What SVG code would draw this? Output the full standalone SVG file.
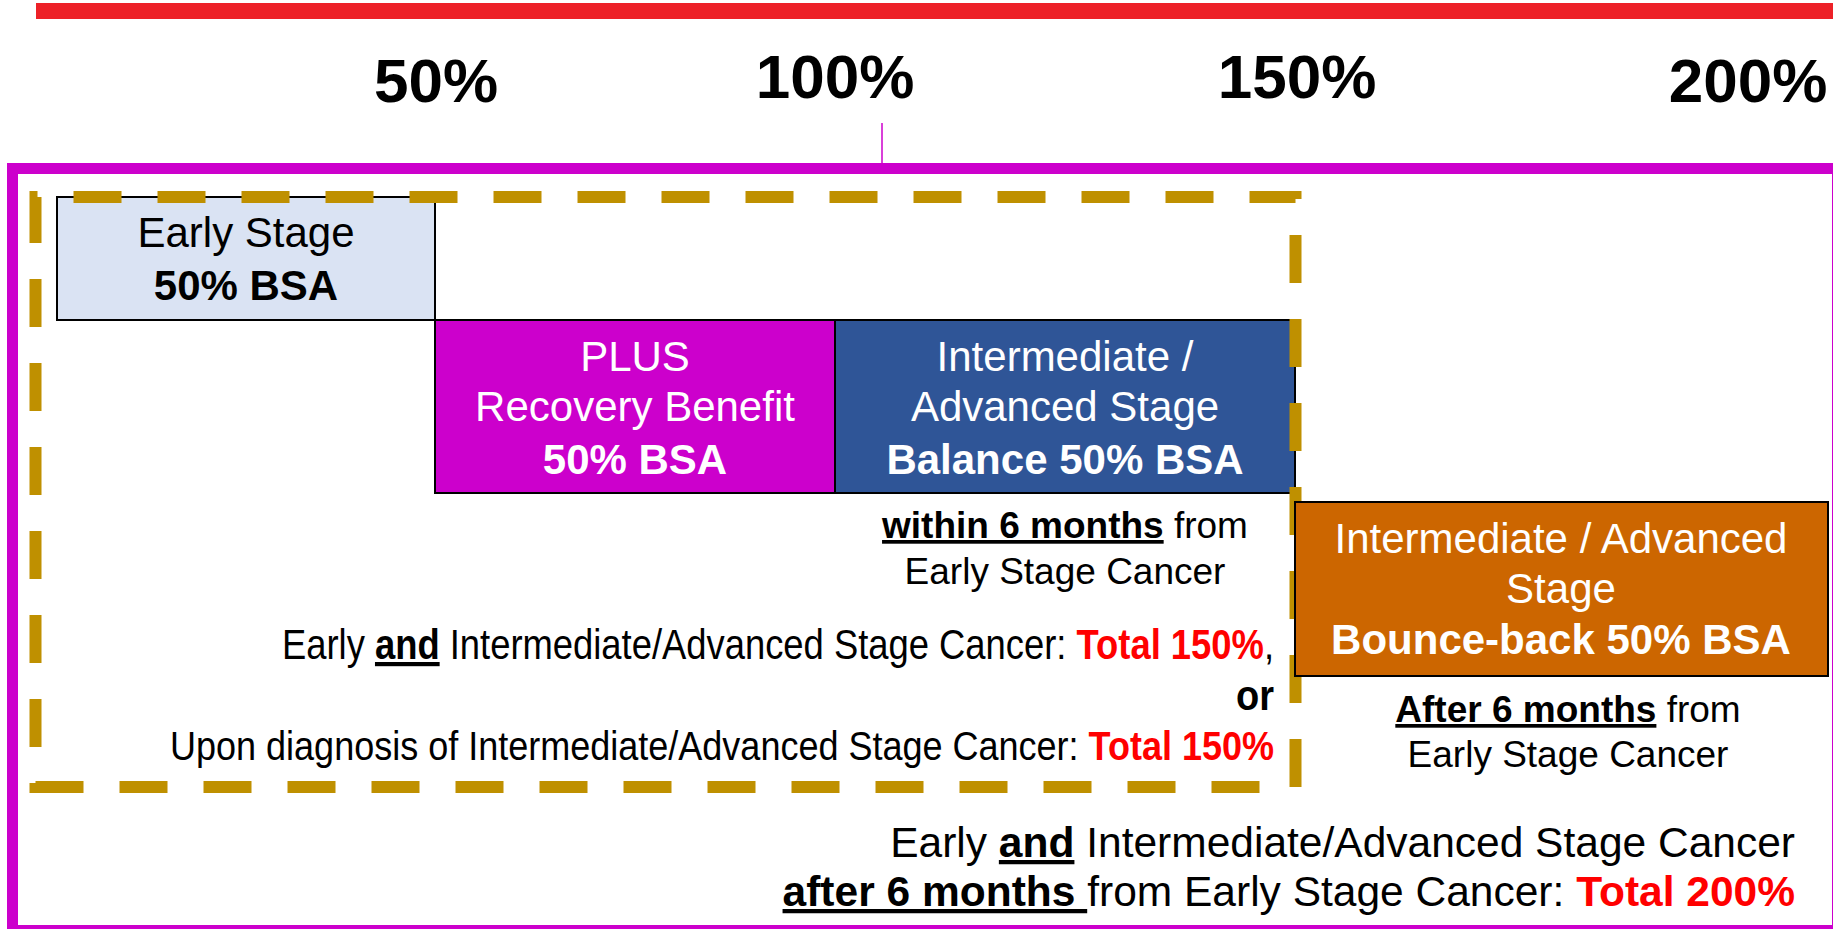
<svg xmlns="http://www.w3.org/2000/svg" width="1833" height="929" viewBox="0 0 1833 929">
<style>
text{font-family:"Liberation Sans",Arial,sans-serif;}
.pct{font-size:62px;font-weight:bold;text-anchor:middle;fill:#000;}
.box{stroke:#000;stroke-width:2;}
.w{fill:#fff;font-size:42px;text-anchor:middle;}
.k{fill:#000;}
.b{font-weight:bold;}
.u{text-decoration:underline;}
.red{fill:#FF0000;font-weight:bold;}
</style>
<rect x="0" y="0" width="1833" height="929" fill="#fff"/>
<rect x="36" y="3" width="1797" height="16" fill="#ED2128"/>
<g id="scale">
<text class="pct" x="436" y="102">50%</text>
<text class="pct" x="835" y="98">100%</text>
<text class="pct" x="1297" y="98">150%</text>
<text class="pct" x="1748" y="102">200%</text>
</g>
<line x1="882" y1="123" x2="882" y2="170" stroke="#CC00CC" stroke-width="1.5"/>
<rect id="frame" x="12.5" y="168.5" width="1825" height="762" fill="none" stroke="#CC00CC" stroke-width="11"/>
<g id="early">
<rect class="box" x="57" y="197" width="378" height="123" fill="#DAE3F3"/>
<text class="k" x="246" y="247" font-size="42" text-anchor="middle">Early Stage</text>
<text class="k b" x="246" y="300" font-size="42" text-anchor="middle">50% BSA</text>
</g>
<g id="plus">
<rect class="box" x="435" y="320" width="400" height="173" fill="#CC00CC"/>
<text class="w" x="635" y="371">PLUS</text>
<text class="w" x="635" y="421">Recovery Benefit</text>
<text class="w b" x="635" y="474">50% BSA</text>
</g>
<g id="intermediate">
<rect class="box" x="835" y="320" width="460" height="173" fill="#2F5597"/>
<text class="w" x="1065" y="371">Intermediate /</text>
<text class="w" x="1065" y="421">Advanced Stage</text>
<text class="w b" x="1065" y="474">Balance 50% BSA</text>
</g>
<path id="group150" d="M35.5,787 H1295.5 V197 H35.5 Z" fill="none" stroke="#BF9000" stroke-width="12" stroke-dasharray="48 36"/>
<g id="bounce">
<rect class="box" x="1295" y="502" width="533" height="174" fill="#CC6600"/>
<text class="w" x="1561" y="553">Intermediate / Advanced</text>
<text class="w" x="1561" y="603">Stage</text>
<text class="w b" x="1561" y="654">Bounce-back 50% BSA</text>
</g>
<g id="labels" fill="#000">
<text x="1065" y="538" font-size="37" text-anchor="middle"><tspan class="b u">within 6 months</tspan> from</text>
<text x="1065" y="584" font-size="37" text-anchor="middle">Early Stage Cancer</text>
<text x="282" y="659" font-size="42" textLength="992" lengthAdjust="spacingAndGlyphs">Early <tspan class="b u">and</tspan> Intermediate/Advanced Stage Cancer: <tspan class="red">Total 150%</tspan>,</text>
<text x="1236" y="710" font-size="43" font-weight="bold" textLength="38" lengthAdjust="spacingAndGlyphs">or</text>
<text x="170" y="760" font-size="40" textLength="1104" lengthAdjust="spacingAndGlyphs">Upon diagnosis of Intermediate/Advanced Stage Cancer: <tspan class="red">Total 150%</tspan></text>
<text x="1568" y="722" font-size="37" text-anchor="middle"><tspan class="b u">After 6 months</tspan> from</text>
<text x="1568" y="767" font-size="37" text-anchor="middle">Early Stage Cancer</text>
<text x="1795" y="857" font-size="42.5" text-anchor="end">Early <tspan class="b u">and</tspan> Intermediate/Advanced Stage Cancer</text>
<text x="1795" y="906" font-size="42.5" text-anchor="end"><tspan class="b u">after 6 months </tspan>from Early Stage Cancer: <tspan class="red">Total 200%</tspan></text>
</g>
</svg>
